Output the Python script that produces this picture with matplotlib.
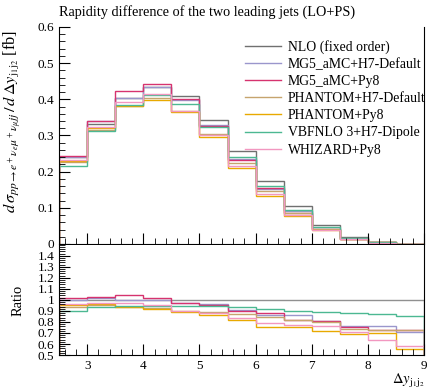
import numpy as np
import matplotlib
matplotlib.use("Agg")
import matplotlib.pyplot as plt
from matplotlib.ticker import MultipleLocator, FixedLocator, FixedFormatter

plt.rcParams["font.family"] = ["Liberation Serif", "DejaVu Serif"]
plt.rcParams["mathtext.fontset"] = "stix"

# bin edges of dy(j1,j2)
edges = np.arange(2.5, 9.01, 0.5)

# NLO fixed order reference [fb]
nlo = [0.240, 0.333, 0.405, 0.435, 0.410, 0.343, 0.258, 0.175, 0.104, 0.052, 0.019, 0.006, 0.0012]

# ratios to NLO
r_mg5_h7 = [1.00, 1.02, 1.00, 1.00, 0.97, 0.96, 0.91, 0.865, 0.865, 0.81, 0.765, 0.765, 0.705]
r_mg5_py8 = [1.015, 1.025, 1.045, 1.015, 0.975, 0.95, 0.90, 0.88, 0.82, 0.81, 0.75, 0.725, 0.725]
r_ph_h7 = [0.94, 0.95, 0.94, 0.93, 0.90, 0.89, 0.87, 0.845, 0.82, 0.80, 0.735, 0.725, 0.725]
r_ph_py8 = [0.955, 0.96, 0.94, 0.918, 0.888, 0.86, 0.818, 0.752, 0.75, 0.72, 0.69, 0.697, 0.555]
r_vbfnlo = [0.90, 0.94, 0.948, 0.945, 0.945, 0.945, 0.934, 0.915, 0.90, 0.894, 0.88, 0.87, 0.85]
r_whizard = [0.964, 0.975, 0.97, 0.955, 0.90, 0.88, 0.833, 0.788, 0.77, 0.76, 0.71, 0.64, 0.585]

labels = ["MG5_aMC+H7-Default", "MG5_aMC+Py8", "PHANTOM+H7-Default",
          "PHANTOM+Py8", "VBFNLO 3+H7-Dipole", "WHIZARD+Py8"]
ratios = [r_mg5_h7, r_mg5_py8, r_ph_h7, r_ph_py8, r_vbfnlo, r_whizard]
colors = ["#9a96cc", "#d6336f", "#c6a46e", "#e8a900", "#4cb892", "#f297c0"]

fig = plt.figure(figsize=(4.28, 3.91), dpi=100)
ax = fig.add_axes([0.138, 0.376, 0.853, 0.555])
axr = fig.add_axes([0.138, 0.092, 0.853, 0.282])

nlo_arr = np.array(nlo)
ax.stairs(nlo_arr, edges, color="#707070", lw=1.0, label="NLO (fixed order)")
axr.stairs(np.ones_like(nlo_arr), edges, color="#909090", lw=1.0)
for lab, r, c in zip(labels, ratios, colors):
    r = np.array(r)
    ax.stairs(nlo_arr * r, edges, color=c, lw=1.0, label=lab)
    axr.stairs(r, edges, color=c, lw=1.0)

for a in (ax, axr):
    a.set_xlim(2.5, 9)
    a.spines["top"].set_visible(False)
    a.xaxis.set_major_locator(MultipleLocator(1))
    a.xaxis.set_minor_locator(MultipleLocator(0.2))
    a.tick_params(which="both", direction="in", labelsize=9.5, right=False, top=False)
    a.tick_params(which="major", length=8)
    a.tick_params(which="minor", length=4)

ax.set_ylim(0, 0.6)
ax.yaxis.set_minor_locator(MultipleLocator(0.02))
ax.set_yticks([0, 0.1, 0.2, 0.3, 0.4, 0.5, 0.6])
ax.set_yticklabels(["0", "0.1", "0.2", "0.3", "0.4", "0.5", "0.6"])
ax.tick_params(labelbottom=False)

axr.set_ylim(0.5, 1.5)
rt = [0.5, 0.6, 0.7, 0.8, 0.9, 1.0, 1.1, 1.2, 1.3, 1.4]
axr.yaxis.set_major_locator(FixedLocator(rt))
axr.yaxis.set_major_formatter(FixedFormatter(["0.5", "0.6", "0.7", "0.8", "0.9", "1", "1.1", "1.2", "1.3", "1.4"]))
axr.yaxis.set_minor_locator(MultipleLocator(0.02))
axr.set_xticks([3, 4, 5, 6, 7, 8, 9])
axr.set_xticklabels(["3", "4", "5", "6", "7", "8", "9"])

ax.set_title("Rapidity difference of the two leading jets (LO+PS)", loc="left",
             fontsize=10.3, pad=8)
ax.set_ylabel(r"$d\,\sigma_{pp\to e^+\nu_e\mu^+\nu_\mu jj}\,/\,d\,\Delta y_{\mathrm{j}_1\mathrm{j}_2}$ [fb]",
              fontsize=11.8, loc="top")
axr.set_ylabel("Ratio", fontsize=10.5)
ax.yaxis.set_label_coords(-0.095, 0.985)
axr.yaxis.set_label_coords(-0.095, 0.5)
axr.text(1.0, -0.15, r"$\Delta y_{\mathrm{j}_1\mathrm{j}_2}$", transform=axr.transAxes,
         ha="right", va="top", fontsize=10.5)

ax.legend(loc="upper right", frameon=False, fontsize=9.9, handlelength=2.6,
          handletextpad=0.5, labelspacing=0.3, borderaxespad=0.3,
          bbox_to_anchor=(1.03, 0.985))

fig.savefig("out.png", dpi=100)
